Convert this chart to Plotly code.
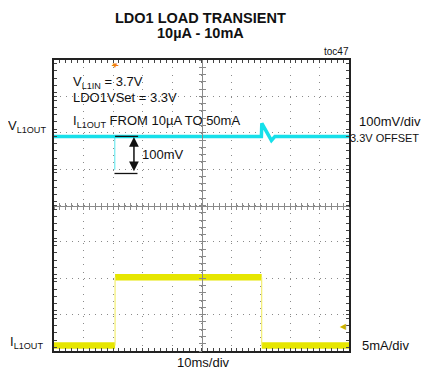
import plotly.graph_objects as go

# ---- data (time in ms, voltage deviation in mV, current in mA) ----
v_time = [0, 20.6, 70.3, 70.45, 73.7, 74.9, 100]
v_mv = [0, 0, 0, 36, -11, 0, 0]
dip_time = [20.6, 20.6]
dip_mv = [0, -92]

i_step_times = [20.7, 70.4]
i_levels = [0, 9.4, 0]
t_start, t_end = 0, 100
trigger_time = 20.7
trigger_level_ma = 2.6

FONT = "Liberation Sans, Arial, sans-serif"
CYAN = "#16e0ea"
YEL = "#e6e600"
GRID = "#8a8a8a"

# build current segments from the step description
bounds = [t_start] + i_step_times + [t_end]
lvl_x, lvl_y = [], []
for k, lv in enumerate(i_levels):
    lvl_x += [bounds[k], bounds[k + 1], None]
    lvl_y += [lv, lv, None]
edge_x, edge_y = [], []
for k, t in enumerate(i_step_times):
    edge_x += [t, t, None]
    edge_y += [i_levels[k], i_levels[k + 1], None]

fig = go.Figure()
fig.add_trace(go.Scatter(x=lvl_x, y=lvl_y, mode="lines", yaxis="y2",
                         line=dict(color=YEL, width=6.5), hoverinfo="skip"))
fig.add_trace(go.Scatter(x=edge_x, y=edge_y, mode="lines", yaxis="y2",
                         line=dict(color="#f2ee70", width=1.2), hoverinfo="skip"))
fig.add_trace(go.Scatter(x=dip_time, y=dip_mv, mode="lines",
                         line=dict(color="#6fe8ef", width=1.2), hoverinfo="skip"))
fig.add_trace(go.Scatter(x=v_time, y=v_mv, mode="lines",
                         line=dict(color=CYAN, width=3.5), hoverinfo="skip"))
# empty traces to activate crosshair axes
for xa, ya in [("x2", "y"), ("x3", "y"), ("x", "y3"), ("x", "y4")]:
    fig.add_trace(go.Scatter(x=[], y=[], xaxis=xa, yaxis=ya, hoverinfo="skip"))

common_x = dict(range=[t_start, t_end], showticklabels=False, zeroline=False,
                fixedrange=True)
cross_x = dict(common_x, overlaying="x", anchor="free", position=0.5,
               showline=True, linecolor=GRID, linewidth=1, showgrid=False,
               tick0=0, dtick=2, ticklen=3, tickcolor=GRID, tickwidth=1)
cross_y = dict(range=[0, 8], overlaying="y", anchor="free", position=0.5,
               showline=True, linecolor=GRID, linewidth=1, showgrid=False,
               tick0=0, dtick=0.2, ticklen=3, tickcolor=GRID, tickwidth=1,
               showticklabels=False, zeroline=False)

# page has an 8px body margin, so the figure is drawn 8px smaller
fig.update_layout(
    width=423, height=371,
    margin=dict(l=46, r=82, t=52, b=28),
    paper_bgcolor="white", plot_bgcolor="white",
    showlegend=False,
    font=dict(family=FONT, size=13, color="#111"),
    xaxis=dict(common_x, tick0=0, dtick=10, showgrid=True, gridcolor=GRID,
               gridwidth=1, griddash="1px,6.3px", showline=True,
               linecolor="#222", linewidth=1.5, mirror="allticks",
               ticks="inside", ticklen=3, tickcolor="#444",
               minor=dict(dtick=2, ticks="inside", ticklen=3,
                          tickcolor="#444", showgrid=False)),
    yaxis=dict(range=[-590, 210], tick0=10, dtick=100, showgrid=True,
               gridcolor=GRID, gridwidth=1, griddash="1px,4.9px",
               showline=True, linecolor="#222", linewidth=1.5,
               mirror="allticks", ticks="inside", ticklen=3,
               tickcolor="#444", showticklabels=False, zeroline=False,
               fixedrange=True,
               minor=dict(dtick=20, ticks="inside", ticklen=3,
                          tickcolor="#444", showgrid=False)),
    yaxis2=dict(range=[-0.75, 39.25], overlaying="y", showgrid=False,
                showticklabels=False, zeroline=False, showline=False,
                ticks="", fixedrange=True),
    xaxis2=dict(cross_x, ticks="outside"),
    xaxis3=dict(cross_x, ticks="inside"),
    yaxis3=dict(cross_y, ticks="outside"),
    yaxis4=dict(cross_y, ticks="inside"),
)

# 100mV measurement marker
fig.add_shape(type="line", xref="x", yref="y", x0=20.7, x1=28.5, y0=0, y1=0,
              line=dict(color="#111", width=1.3))
fig.add_shape(type="line", xref="x", yref="y", x0=20.5, x1=28.3, y0=-102, y1=-102,
              line=dict(color="#111", width=1.3))
fig.add_annotation(x=27.1, y=-2, ax=27.1, ay=-100, xref="x", yref="y",
                   axref="x", ayref="y", text="", showarrow=True,
                   arrowhead=2, arrowside="end+start", arrowsize=1.3,
                   arrowwidth=1.5, arrowcolor="#111")
fig.add_annotation(x=29.0, y=-50, xref="x", yref="y", text="100mV",
                   showarrow=False, xanchor="left", yanchor="middle")

# trigger markers
fig.add_annotation(x=trigger_time, y=1.0, xref="x", yref="paper", text="▼",
                   showarrow=False, yanchor="top", yshift=1,
                   font=dict(size=8, color="#f08010"))
fig.add_shape(type="line", xref="x", yref="paper", x0=trigger_time - 1.1,
              x1=trigger_time + 1.1, y0=0.981, y1=0.981,
              line=dict(color="#f08010", width=1))
fig.add_annotation(x=1.0, y=trigger_level_ma, xref="paper", yref="y2", text="◀",
                   showarrow=False, xanchor="right", yanchor="middle",
                   font=dict(size=8, color="#c8b000"))

def txt(x, y, s, xa="left", size=13, ya="middle"):
    fig.add_annotation(x=x, y=y, xref="paper", yref="paper", text=s,
                       showarrow=False, xanchor=xa, yanchor=ya,
                       font=dict(size=size, family=FONT, color="#111"))

txt(0.495, 1.1787, "<b>LDO1 LOAD TRANSIENT</b>", "center", 14.5, "top")
txt(0.495, 1.0945, "<b>10µA - 10mA</b>", "center", 14.5)
txt(1.0068, 1.0275, "toc47", "right", 10)
txt(0.0566, 0.923, "V<sub>L1IN</sub> = 3.7V")
txt(0.0566, 0.872, "LDO1VSet = 3.3V")
txt(0.0566, 0.787, "I<sub>L1OUT</sub> FROM 10µA TO 50mA")
txt(-0.0203, 0.77, "V<sub>L1OUT</sub>", "right")
txt(-0.156, 0.0275, "I<sub>L1OUT</sub>", "left")
txt(1.027, 0.790, "100mV/div")
txt(1.2441, 0.732, "3.3V OFFSET", "right", 11)
txt(1.037, 0.0206, "5mA/div")
txt(0.508, -0.041, "10ms/div", "center")

fig.write_html("out.html")
